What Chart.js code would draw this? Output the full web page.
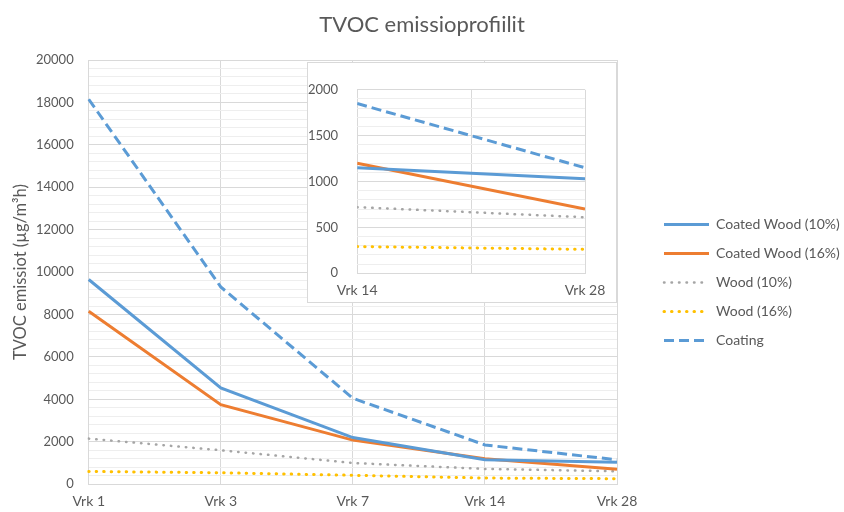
<!DOCTYPE html>
<html>
<head>
<meta charset="utf-8">
<script src="https://cdn.jsdelivr.net/npm/chart.js@4"></script>
<style>
  html, body { margin: 0; padding: 0; background: #fff; }
  #wrap { position: relative; width: 844px; height: 512px; }
  #main { position: absolute; left: 0; top: 0; }
  #insetBox { position: absolute; left: 307px; top: 62px; width: 308px; height: 239px;
              border: 1px solid #d9d9d9; background: #fff; }
  #inset { display: block; }
</style>
</head>
<body>
<div id="wrap">
  <canvas id="main" width="844" height="512"></canvas>
  <div id="insetBox"><canvas id="inset" width="308" height="239"></canvas></div>
</div>
<script>
'use strict';

const days = ['Vrk 1', 'Vrk 3', 'Vrk 7', 'Vrk 14', 'Vrk 28'];
const coatedWood10 = [9650, 4540, 2200, 1150, 1030];
const coatedWood16 = [8150, 3750, 2080, 1200, 700];
const wood10 = [2150, 1600, 1000, 720, 610];
const wood16 = [600, 540, 420, 290, 260];
const coating = [18150, 9300, 4050, 1850, 1150];

// the small chart zooms in on the last two days
const insetFrom = 3;

Chart.defaults.font.family = 'Lato';
Chart.defaults.color = '#595959';

const series = [
  { label: 'Coated Wood (10%)', data: coatedWood10, color: '#5b9bd5', width: 3, dash: [], cap: 'butt' },
  { label: 'Coated Wood (16%)', data: coatedWood16, color: '#ed7d31', width: 3, dash: [], cap: 'butt' },
  { label: 'Wood (10%)', data: wood10, color: '#a5a5a5', width: 2.5, dash: [0.5, 7], cap: 'round' },
  { label: 'Wood (16%)', data: wood16, color: '#ffc000', width: 3, dash: [0.5, 7], cap: 'round' },
  { label: 'Coating', data: coating, color: '#5b9bd5', width: 3, dash: [10, 5], cap: 'butt' }
];

function dataset(s, data) {
  return {
    label: s.label,
    data: data,
    borderColor: s.color,
    backgroundColor: s.color,
    borderWidth: s.width,
    borderDash: s.dash,
    borderCapStyle: s.cap,
    pointRadius: 0,
    tension: 0,
    fill: false
  };
}

const gridColor = '#d9d9d9';
const minorColor = '#eeeeee';

new Chart(document.getElementById('main'), {
  type: 'line',
  data: {
    labels: days,
    datasets: series.map(s => dataset(s, s.data))
  },
  options: {
    responsive: false,
    animation: false,
    layout: { padding: { left: 0, right: 0, top: 0, bottom: -7 } },
    plugins: {
      title: {
        display: true,
        text: 'TVOC emissioprofiilit',
        font: { size: 22, weight: 'normal' },
        color: '#595959',
        padding: { top: 12, bottom: 21.6 }
      },
      legend: {
        position: 'right',
        maxWidth: 195,
        // empty title only pushes the entries down a bit
        title: { display: true, text: '', font: { size: 10 }, padding: { top: 34, bottom: 0 } },
        labels: {
          usePointStyle: true,
          pointStyle: 'line',
          pointStyleWidth: 45,
          padding: 15,
          font: { size: 14 },
          color: '#595959',
          // point style legend items don't carry the dash, take it from the series
          generateLabels: chart => Chart.defaults.plugins.legend.labels.generateLabels(chart).map(item => {
            const s = series[item.datasetIndex];
            return Object.assign(item, { lineDash: s.dash, lineCap: s.cap, lineWidth: s.width, strokeStyle: s.color });
          })
        }
      },
      tooltip: { enabled: false }
    },
    scales: {
      x: {
        offset: false,
        grid: { color: gridColor, drawTicks: false },
        border: { color: gridColor },
        ticks: { padding: 9, font: { size: 14 }, maxRotation: 0 }
      },
      y: {
        min: 0,
        max: 20000,
        ticks: {
          stepSize: 400,
          autoSkip: false,
          padding: 15,
          font: { size: 13 },
          callback: v => (v % 2000 === 0 ? v : '')
        },
        grid: { drawTicks: false, color: c => (c.tick.value % 2000 === 0 ? gridColor : minorColor) },
        border: { display: false },
        title: {
          display: true,
          text: 'TVOC emissiot (µg/m³h)',
          font: { size: 16.5 },
          color: '#595959',
          padding: { top: 11, bottom: -9.8 }
        }
      },
      // empty axis, only keeps some room between plot and legend
      gap: {
        type: 'linear',
        axis: 'y',
        position: 'right',
        grid: { display: false },
        ticks: { display: false },
        border: { display: false },
        afterFit: s => { s.width = 32; }
      }
    }
  }
});

const insetDays = days.slice(insetFrom);

new Chart(document.getElementById('inset'), {
  type: 'line',
  data: {
    datasets: series.map(s => dataset(s, s.data.slice(insetFrom).map((v, i) => ({ x: i, y: v }))))
  },
  options: {
    responsive: false,
    animation: false,
    layout: { padding: { left: -19, right: 31, top: 26, bottom: -6 } },
    plugins: {
      legend: { display: false },
      title: { display: false },
      tooltip: { enabled: false }
    },
    scales: {
      x: {
        type: 'linear',
        min: 0,
        max: insetDays.length - 1,
        ticks: {
          stepSize: 0.5,
          autoSkip: false,
          maxRotation: 0,
          padding: 9,
          font: { size: 14 },
          callback: v => (Number.isInteger(v) ? insetDays[v] : '')
        },
        grid: { color: gridColor, drawTicks: false },
        border: { color: gridColor }
      },
      y: {
        min: 0,
        max: 2000,
        ticks: {
          stepSize: 100,
          autoSkip: false,
          padding: 19,
          font: { size: 13 },
          callback: v => (v % 500 === 0 ? v : '')
        },
        grid: { drawTicks: false, color: c => (c.tick.value % 500 === 0 ? gridColor : minorColor) },
        border: { display: false }
      }
    }
  }
});
</script>
</body>
</html>
